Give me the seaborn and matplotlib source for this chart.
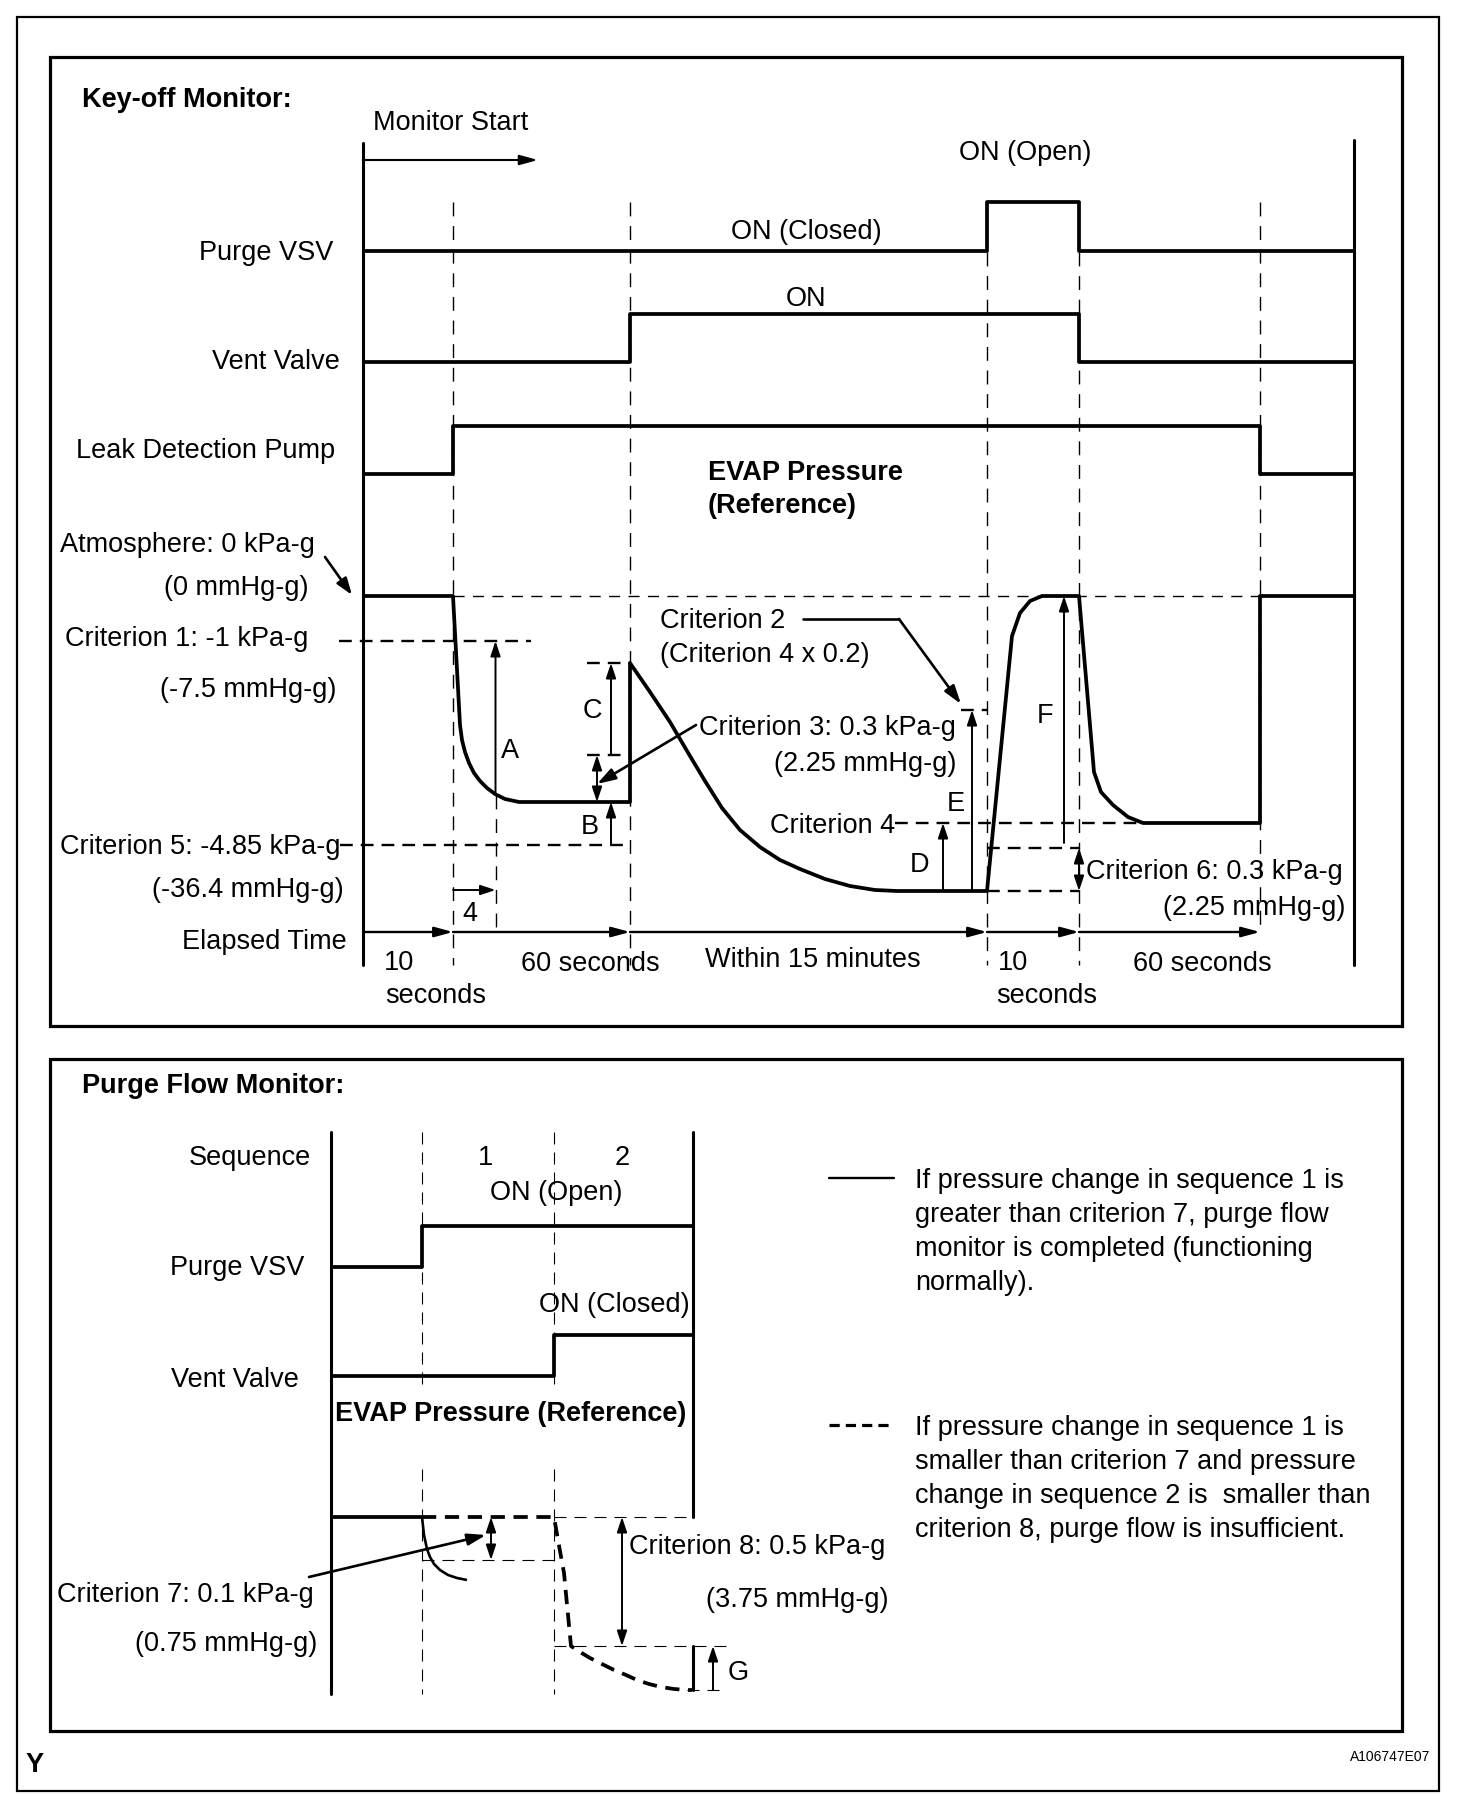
"""EVAP monitor timing diagram (key-off monitor / purge flow monitor)."""

import matplotlib
matplotlib.use('Agg')
import matplotlib.pyplot as plt
import seaborn as sns
from matplotlib.patches import Rectangle

sns.set_style("white")
plt.rcParams['font.family'] = ['Liberation Sans', 'DejaVu Sans']

FS = 19.5
K = 'black'

# ---------------- Key-off monitor (x = time position, y = signal level) ----------------
purge_t = [363, 987, 987, 1079, 1079, 1354]
purge_lv = [251, 251, 202, 202, 251, 251]

vent_t = [363, 630, 630, 1079, 1079, 1354]
vent_lv = [362, 362, 314, 314, 362, 362]

pump_t = [363, 453, 453, 1260, 1260, 1354]
pump_lv = [474, 474, 426, 426, 474, 474]

evap_t = [363, 453, 460, 462, 465, 469, 474, 480, 487, 495, 505, 519, 630,
          630, 650, 670, 690, 705, 722, 740, 760, 780, 800, 825, 850, 875, 897, 987,
          1012, 1020, 1030, 1042, 1079,
          1094, 1101, 1113, 1128, 1143, 1260, 1260, 1354]
evap_p = [596, 596, 725, 740, 752, 763, 773, 781, 788, 794, 799, 802, 802,
          663, 692, 722, 756, 781, 808, 830, 847, 860, 869, 879, 886, 890, 891, 891,
          636, 613, 601, 596, 596,
          772, 792, 805, 817, 823, 823, 596, 596]

time_marks = [363, 453, 630, 987, 1079, 1260]
elapsed_labels = ['10', '60 seconds', 'Within 15 minutes', '10', '60 seconds']

# ---------------- Purge flow monitor ----------------
pf_purge_t = [331, 422, 422, 693]
pf_purge_lv = [1267, 1267, 1226, 1226]
pf_vent_t = [331, 554, 554, 693]
pf_vent_lv = [1376, 1376, 1335, 1335]

pf_ok_t = [331, 422]
pf_ok_p = [1517, 1517]
pf_ok_curve_t = [422, 424, 427, 430, 434, 440, 448, 457, 467]
pf_ok_curve_p = [1517, 1535, 1549, 1557, 1564, 1570, 1575, 1578, 1580]
pf_bad_t = [422, 554, 558, 564, 568, 571, 580, 590, 602, 614, 626, 637, 649, 661, 674, 687, 692]
pf_bad_p = [1517, 1517, 1540, 1573, 1615, 1646, 1652, 1658, 1664, 1670, 1675, 1680, 1684, 1687, 1689, 1690, 1690]

fig = plt.figure(figsize=(14.72, 18), dpi=100)
ax = fig.add_axes([0, 0, 1, 1])
ax.set_xlim(0, 1472)
ax.set_ylim(1800, 0)

SIG = 2.7   # signal line width
AXW = 2.2   # axis line width


def trace(xs, ys, lw=SIG, dashes=None):
    kw = dict(x=xs, y=ys, sort=False, estimator=None, color=K, lw=lw, ax=ax)
    line = sns.lineplot(**kw).lines[-1]
    if dashes is not None:
        line.set_dashes(dashes)
    line.set_solid_capstyle('butt')


def dline(xs, ys, lw=1.0, dashes=(10, 7)):
    ax.plot(xs, ys, color=K, lw=lw, dashes=dashes, solid_capstyle='butt')


def arrow(p0, p1, lw=1.4, hl=0.9, hw=0.3, both=False):
    style = ('<|-|>' if both else '-|>') + f',head_length={hl},head_width={hw}'
    ax.annotate('', xy=p1, xytext=p0,
                arrowprops=dict(arrowstyle=style, color=K, lw=lw,
                                shrinkA=0, shrinkB=0, mutation_scale=10))


def txt(x, y, s, ha='left', **kw):
    ax.text(x, y + 3, s, ha=ha, va='center', fontsize=FS, color=K, **kw)


# frames
ax.add_patch(Rectangle((16.5, 17), 1422, 1774, fill=False, lw=1.6, ec=K))
ax.add_patch(Rectangle((49.5, 57), 1352, 969, fill=False, lw=2.3, ec=K))
ax.add_patch(Rectangle((49.5, 1059), 1352, 672, fill=False, lw=2.3, ec=K))

# ================= Key-off monitor =================
txt(82, 97, 'Key-off Monitor:', fontweight='bold')
txt(373, 120, 'Monitor Start')
arrow((363, 160), (538, 160), lw=1.5, hl=1.1, hw=0.3)

# axes verticals
ax.plot([363, 363], [143, 965], color=K, lw=AXW)
ax.plot([1354, 1354], [140, 965], color=K, lw=AXW)

# thin time-mark dashed verticals
dline([453, 453], [202, 965])
dline([630, 630], [202, 965])
dline([987, 987], [252, 965])
dline([1079, 1079], [252, 965])
dline([1260, 1260], [202, 932])
dline([495.5, 495.5], [795, 932])
dline([453, 1260], [596, 596], lw=1.0, dashes=(8, 6))

# criterion dashed levels
cd = dict(lw=1.7, dashes=(5.4, 3.4))
dline([339, 531], [641, 641], **cd)
dline([340, 630], [845, 845], **cd)
dline([587, 630], [663, 663], **cd)
dline([587, 630], [755, 755], **cd)
dline([961, 987], [710, 710], **cd)
dline([895, 1143], [823, 823], **cd)
dline([987, 1079], [848, 848], **cd)
dline([987, 1079], [891, 891], **cd)

# signal traces
trace(purge_t, purge_lv)
trace(vent_t, vent_lv)
trace(pump_t, pump_lv)
trace(evap_t, evap_p)

# row labels
txt(333, 250, 'Purge VSV', ha='right')
txt(340, 359, 'Vent Valve', ha='right')
txt(335, 448, 'Leak Detection Pump', ha='right')
txt(1025, 150, 'ON (Open)', ha='center')
txt(806, 229, 'ON (Closed)', ha='center')
txt(806, 296, 'ON', ha='center')
txt(708, 470, 'EVAP Pressure', fontweight='bold')
txt(708, 503, '(Reference)', fontweight='bold')

txt(315, 542, 'Atmosphere: 0 kPa-g', ha='right')
txt(309, 585, '(0 mmHg-g)', ha='right')
arrow((325, 557), (352, 595), lw=1.9, hl=1.0, hw=0.35)
txt(308, 636, 'Criterion 1: -1 kPa-g', ha='right')
txt(336, 687, '(-7.5 mmHg-g)', ha='right')
txt(340, 844, 'Criterion 5: -4.85 kPa-g', ha='right')
txt(344, 887, '(-36.4 mmHg-g)', ha='right')
txt(347, 939, 'Elapsed Time', ha='right')

# measurement arrows
arrow((495.5, 795), (495.5, 641))
arrow((611, 755), (611, 663))
arrow((597, 755), (597, 802), both=True)
arrow((611, 845), (611, 802))
arrow((453, 890), (495.5, 890))
arrow((943, 891), (943, 823))
arrow((972, 891), (972, 710))
arrow((1064, 843), (1064, 596))
arrow((1079, 848), (1079, 891), both=True)
txt(510, 748, 'A', ha='center')
txt(592, 708, 'C', ha='center')
txt(590, 824, 'B', ha='center')
txt(470, 911, '4', ha='center')
txt(919, 862, 'D', ha='center')
txt(956, 801, 'E', ha='center')
txt(1045, 713, 'F', ha='center')

# criterion call-outs
txt(660, 618, 'Criterion 2')
txt(660, 652, '(Criterion 4 x 0.2)')
ax.plot([803, 899], [619, 619], color=K, lw=1.9)
arrow((899, 619), (961, 704), lw=1.9, hl=1.1, hw=0.35)
txt(956, 725, 'Criterion 3: 0.3 kPa-g', ha='right')
txt(956, 761, '(2.25 mmHg-g)', ha='right')
arrow((696, 725), (597, 784), lw=1.9, hl=1.1, hw=0.35)
txt(895, 823, 'Criterion 4', ha='right')
txt(1086, 869, 'Criterion 6: 0.3 kPa-g')
txt(1345, 905, '(2.25 mmHg-g)', ha='right')

# elapsed time axis
for a, b in zip(time_marks[:-1], time_marks[1:]):
    arrow((a, 932), (b, 932), lw=1.7, hl=1.1, hw=0.3)
txt(399, 960, elapsed_labels[0], ha='center')
txt(436, 993, 'seconds', ha='center')
txt(590, 961, elapsed_labels[1], ha='center')
txt(813, 957, elapsed_labels[2], ha='center')
txt(1013, 960, elapsed_labels[3], ha='center')
txt(1047, 993, 'seconds', ha='center')
txt(1202, 961, elapsed_labels[4], ha='center')

# ================= Purge flow monitor =================
txt(82, 1083, 'Purge Flow Monitor:', fontweight='bold')
ax.plot([331, 331], [1132, 1694], color=K, lw=AXW)
ax.plot([693, 693], [1132, 1517], color=K, lw=AXW)
ax.plot([693, 693], [1646, 1690], color=K, lw=AXW)

thin = dict(lw=0.8, dashes=(10.8, 7.2))
for xv in (422, 554):
    dline([xv, xv], [1132, 1386], **thin)
    dline([xv, xv], [1469, 1694], **thin)
dline([554, 693], [1517, 1517], **thin)
dline([422, 554], [1560, 1560], **thin)
dline([554, 727], [1646, 1646], **thin)
dline([687, 727], [1690, 1690], **thin)

txt(311, 1155, 'Sequence', ha='right')
txt(486, 1155, '1', ha='center')
txt(622, 1155, '2', ha='center')
txt(556, 1190, 'ON (Open)', ha='center')
txt(304, 1265, 'Purge VSV', ha='right')
txt(690, 1302, 'ON (Closed)', ha='right')
txt(299, 1377, 'Vent Valve', ha='right')
txt(335, 1411, 'EVAP Pressure (Reference)', fontweight='bold')

trace(pf_purge_t, pf_purge_lv)
trace(pf_vent_t, pf_vent_lv)
trace(pf_ok_t, pf_ok_p)
trace(pf_ok_curve_t, pf_ok_curve_p, lw=1.9)
trace(pf_bad_t, pf_bad_p, lw=SIG, dashes=(3.8, 2.3))

arrow((491, 1517), (491, 1560), both=True)
arrow((622, 1517), (622, 1646), both=True)
arrow((713, 1690), (713, 1646))
arrow((309, 1577), (486, 1535), lw=1.9, hl=1.1, hw=0.35)

txt(314, 1592, 'Criterion 7: 0.1 kPa-g', ha='right')
txt(317, 1641, '(0.75 mmHg-g)', ha='right')
txt(629, 1544, 'Criterion 8: 0.5 kPa-g')
txt(889, 1597, '(3.75 mmHg-g)', ha='right')
txt(738, 1670, 'G', ha='center')

# legend notes
ax.plot([829, 894], [1178, 1178], color=K, lw=1.7)
ax.plot([829, 894], [1425, 1425], color=K, lw=2.3, dashes=(3.2, 1.9))
note1 = ['If pressure change in sequence 1 is',
         'greater than criterion 7, purge flow',
         'monitor is completed (functioning',
         'normally).']
note2 = ['If pressure change in sequence 1 is',
         'smaller than criterion 7 and pressure',
         'change in sequence 2 is  smaller than',
         'criterion 8, purge flow is insufficient.']
for i, line in enumerate(note1):
    txt(915, 1178 + 34 * i, line)
for i, line in enumerate(note2):
    txt(915, 1425 + 34 * i, line)

txt(26, 1762, 'Y', fontweight='bold')
ax.text(1430, 1757, 'A106747E07', ha='right', va='center', fontsize=10, color=K)

ax.axis('off')
fig.savefig('out.png', dpi=100)
